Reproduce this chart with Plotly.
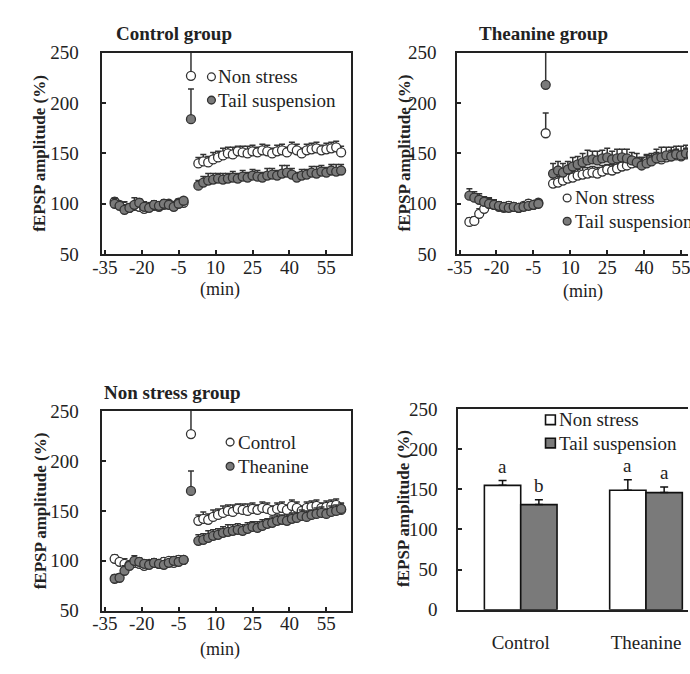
import plotly.graph_objects as go

W, H = 690, 674
FONT = "Liberation Serif"
INK = "#222222"
GRAY = "#7a7a7a"

# ---- data -----------------------------------------------------------------
# recording times (min): baseline, tetanus (0), post-tetanus
minutes = [-31, -29, -27, -25, -23, -21, -19, -17, -15, -13, -11, -9, -7, -5, -3,
           0,
           3, 5, 7, 9, 11, 13, 15, 17, 19, 21, 23, 25, 27, 29, 31,
           33, 35, 37, 39, 41, 43, 45, 47, 49, 51, 53, 55, 57, 59, 61]

# Control diet, non stress
ctrl_nonstress = [102, 99, 97, 96, 98, 97, 95, 97, 98, 97, 99, 100, 98, 101, 101,
                  227,
                  140, 142, 141, 144, 146, 148, 150, 149, 152, 151, 150, 152, 151, 153, 152,
                  150, 152, 153, 151, 155, 153, 150, 153, 154, 155, 153, 154, 155, 156, 151]
ctrl_nonstress_sem = [4, 3, 5, 3, 4, 3, 6, 3, 4, 3, 4, 3, 3, 4, 3,
                      30,
                      6, 7, 6, 7, 6, 7, 6, 7, 5, 6, 7, 6, 5, 6, 6,
                      5, 6, 6, 5, 6, 6, 5, 6, 6, 6, 5, 6, 6, 6, 6]

# Control diet, tail suspension
ctrl_tail = [100, 98, 94, 96, 99, 101, 97, 96, 99, 98, 100, 99, 97, 100, 103,
             184,
             118, 121, 123, 124, 125, 124, 125, 126, 125, 127, 126, 128, 127, 126, 128,
             129, 128, 130, 131, 129, 126, 128, 129, 131, 130, 132, 131, 133, 132, 133]
ctrl_tail_sem = [5, 4, 5, 4, 7, 4, 5, 4, 4, 3, 4, 4, 3, 4, 3,
                 30,
                 5, 6, 7, 6, 5, 6, 5, 6, 5, 6, 5, 6, 6, 5, 7,
                 6, 5, 8, 7, 6, 5, 6, 5, 6, 7, 6, 5, 6, 7, 6]

# Theanine diet, non stress
thea_nonstress = [82, 83, 90, 95, 100, 99, 97, 96, 98, 97, 96, 98, 100, 99, 101,
                  170,
                  120, 121, 123, 125, 126, 128, 129, 130, 131, 130, 132, 134, 133, 135, 137,
                  138, 140, 141, 140, 142, 143, 145, 144, 146, 147, 148, 147, 149, 150, 152]
thea_nonstress_sem = [4, 4, 5, 4, 5, 4, 4, 4, 4, 3, 4, 3, 4, 3, 3,
                      20,
                      6, 6, 7, 6, 6, 6, 7, 6, 6, 6, 6, 5, 6, 6, 5,
                      6, 6, 5, 6, 6, 5, 6, 6, 5, 6, 6, 5, 6, 6, 6]

# Theanine diet, tail suspension
thea_tail = [108, 106, 104, 102, 100, 99, 98, 97, 96, 97, 96, 97, 98, 99, 100,
             218,
             130, 133, 131, 134, 137, 139, 141, 143, 144, 143, 145, 146, 144, 145, 146,
             145, 143, 141, 138, 140, 142, 145, 146, 148, 147, 149, 148, 150, 149, 150]
thea_tail_sem = [7, 6, 6, 5, 6, 5, 4, 4, 3, 4, 3, 3, 3, 3, 3,
                 35,
                 10, 9, 9, 8, 9, 8, 9, 10, 8, 9, 8, 9, 8, 9, 8,
                 9, 8, 9, 8, 9, 8, 9, 10, 8, 9, 8, 9, 8, 9, 8]

# LTP summary (mean of the last recordings)
diet_groups = ["Control", "Theanine"]
bar_nonstress = [155, 149]
bar_nonstress_sem = [6, 13]
bar_tail = [131, 146]
bar_tail_sem = [6, 7]
letters_nonstress = ["a", "a"]
letters_tail = ["b", "a"]

time_ticks = [-35, -20, -5, 10, 25, 40, 55]
time_tick_labels = ["-35", "-20", "-5", "10", "25", "40", "55"]
amp_ticks = [50, 100, 150, 200, 250]
bar_ticks = [0, 50, 100, 150, 200, 250]


# ---- helpers ----------------------------------------------------------------
def px(x):
    return x / W


def py(y):
    return 1 - y / H


def zeros(n):
    return [0] * n


fig = go.Figure()


def add_series(ax, y, sem, filled):
    fig.add_trace(go.Scatter(
        x=minutes, y=y, mode="markers",
        xaxis="x" + ax, yaxis="y" + ax,
        marker=dict(size=9, color=GRAY if filled else "white",
                    line=dict(color="#333333", width=1.3)),
        error_y=dict(type="data", array=sem, arrayminus=zeros(len(sem)),
                     symmetric=False, color="#333333", thickness=1.5, width=3),
        showlegend=False, cliponaxis=True,
    ))


# Control group
add_series("", ctrl_nonstress, ctrl_nonstress_sem, False)
add_series("", ctrl_tail, ctrl_tail_sem, True)
# Theanine group
add_series("2", thea_nonstress, thea_nonstress_sem, False)
add_series("2", thea_tail, thea_tail_sem, True)
# Non stress group
add_series("3", ctrl_nonstress, ctrl_nonstress_sem, False)
add_series("3", thea_nonstress, thea_nonstress_sem, True)

# Summary bars
BARGAP = 0.42
xpos = list(range(len(diet_groups)))
fig.add_trace(go.Bar(
    x=xpos, y=bar_nonstress, xaxis="x4", yaxis="y4",
    marker=dict(color="white", line=dict(color="#111111", width=1.6)),
    error_y=dict(type="data", array=bar_nonstress_sem, arrayminus=zeros(2),
                 symmetric=False, color="#111111", thickness=1.5, width=4),
    showlegend=False,
))
fig.add_trace(go.Bar(
    x=xpos, y=bar_tail, xaxis="x4", yaxis="y4",
    marker=dict(color=GRAY, line=dict(color="#111111", width=1.6)),
    error_y=dict(type="data", array=bar_tail_sem, arrayminus=zeros(2),
                 symmetric=False, color="#111111", thickness=1.5, width=4),
    showlegend=False,
))

# ---- axes -------------------------------------------------------------------
# panel boxes in pixels: left, top, right, bottom (right column runs off the page)
P1 = (94, 44, 347, 252)
P2 = (455, 44, 690, 252)
P3 = (94, 414, 347, 620)
P4 = (456, 412, 690, 619)
FULL_W = 253.0
MIN_PER_PX = 101.0 / FULL_W
BAR_PER_PX = 2.0 / 255.0

tickfont = dict(family=FONT, size=19, color=INK)


def axis_style(**kw):
    d = dict(showline=True, linecolor=INK, linewidth=1.5, ticks="inside",
             ticklen=4, tickwidth=1.5, tickcolor=INK, showgrid=False,
             zeroline=False, tickfont=tickfont, fixedrange=True,
             ticklabeloverflow="allow")
    d.update(kw)
    return d


def time_x(box, anchor):
    right = -36 + (box[2] - box[0]) * MIN_PER_PX
    return axis_style(domain=[px(box[0]), px(box[2])], anchor=anchor,
                      range=[-36, right], tickvals=time_ticks,
                      ticktext=time_tick_labels, mirror=True,
                      ticklabelstandoff=-5)


def amp_y(box, anchor, mirror, ticks, rng, standoff):
    return axis_style(domain=[py(box[3]), py(box[1])], anchor=anchor,
                      range=rng, tickvals=ticks, mirror=mirror,
                      ticklabelstandoff=standoff)


fig.update_layout(
    xaxis=time_x(P1, "y"),
    yaxis=amp_y(P1, "x", True, amp_ticks, [50, 250], 18),
    xaxis2=time_x(P2, "y2"),
    yaxis2=amp_y(P2, "x2", False, amp_ticks, [50, 250], 15),
    xaxis3=time_x(P3, "y3"),
    yaxis3=amp_y(P3, "x3", True, amp_ticks, [50, 250], 18),
    xaxis4=axis_style(domain=[px(P4[0]), px(P4[2])], anchor="y4",
                      range=[-0.5, -0.5 + (P4[2] - P4[0]) * BAR_PER_PX],
                      tickvals=xpos, ticktext=diet_groups, ticks="",
                      mirror=True, ticklabelstandoff=15),
    yaxis4=amp_y(P4, "x4", False, bar_ticks, [0, 250], 15),
    barmode="group", bargap=BARGAP, bargroupgap=0,
    width=W, height=H, margin=dict(l=0, r=0, t=0, b=0),
    paper_bgcolor="white", plot_bgcolor="white",
    font=dict(family=FONT, color=INK),
)

# ---- text -------------------------------------------------------------------
ann = []


def text(x, y, s, size=19, xanchor="center", yanchor="middle", angle=0, bold=False):
    ann.append(dict(x=px(x), y=py(y), xref="paper", yref="paper",
                    text=f"<b>{s}</b>" if bold else s,
                    showarrow=False, xanchor=xanchor, yanchor=yanchor, textangle=angle,
                    font=dict(family=FONT, size=size, color=INK)))


# panel titles
text(106, 24, "Control group", 19, "left", bold=True)
text(475, 24, "Theanine group", 19, "left", bold=True)
text(94, 395, "Non stress group", 19, "left", bold=True)

# y titles
text(30, 148, "fEPSP amplitude (%)", 17, angle=-90, bold=True)
text(401, 148, "fEPSP amplitude (%)", 17, angle=-90, bold=True)
text(31, 517, "fEPSP amplitude (%)", 17, angle=-90, bold=True)
text(401, 515, "fEPSP amplitude (%)", 17, angle=-90, bold=True)

# x titles
text(214, 288, "(min)", 18)
text(583, 291, "(min)", 18)
text(214, 660, "(min)", 18)

# in-panel keys
shapes = []


def key_circle(x, y, filled):
    r = 4
    shapes.append(dict(type="circle", xref="paper", yref="paper",
                       x0=px(x - r), x1=px(x + r), y0=py(y + r), y1=py(y - r),
                       fillcolor=GRAY if filled else "white",
                       line=dict(color="#333333", width=1.3)))


def key_square(x, y, filled):
    r = 5
    shapes.append(dict(type="rect", xref="paper", yref="paper",
                       x0=px(x - r), x1=px(x + r), y0=py(y + r), y1=py(y - r),
                       fillcolor=GRAY if filled else "white",
                       line=dict(color="#111111", width=1.6)))


key_circle(205, 69, False); text(210, 69, "Non stress", 19, "left")
key_circle(205, 93, True); text(210, 93, "Tail suspension", 19, "left")
key_circle(567, 194, False); text(573, 194, "Non stress", 19, "left")
key_circle(567, 218, True); text(573, 218, "Tail suspension", 19, "left")
key_circle(224, 446, False); text(230, 446, "Control", 19, "left")
key_circle(224, 471, True); text(230, 471, "Theanine", 19, "left")
key_square(550, 423, False); text(557, 423, "Non stress", 19, "left")
key_square(550, 447, True); text(557, 447, "Tail suspension", 19, "left")

# significance letters above the bars
half = (1 - BARGAP) / 4
for i in xpos:
    for off, v, s, lab in ((-half, bar_nonstress[i], bar_nonstress_sem[i], letters_nonstress[i]),
                           (half, bar_tail[i], bar_tail_sem[i], letters_tail[i])):
        ann.append(dict(x=i + off, y=v + s, xref="x4", yref="y4", text=lab,
                        showarrow=False, yanchor="bottom", yshift=2,
                        font=dict(family=FONT, size=19, color=INK)))

fig.update_layout(annotations=ann, shapes=shapes)

fig.write_html("out.html")
